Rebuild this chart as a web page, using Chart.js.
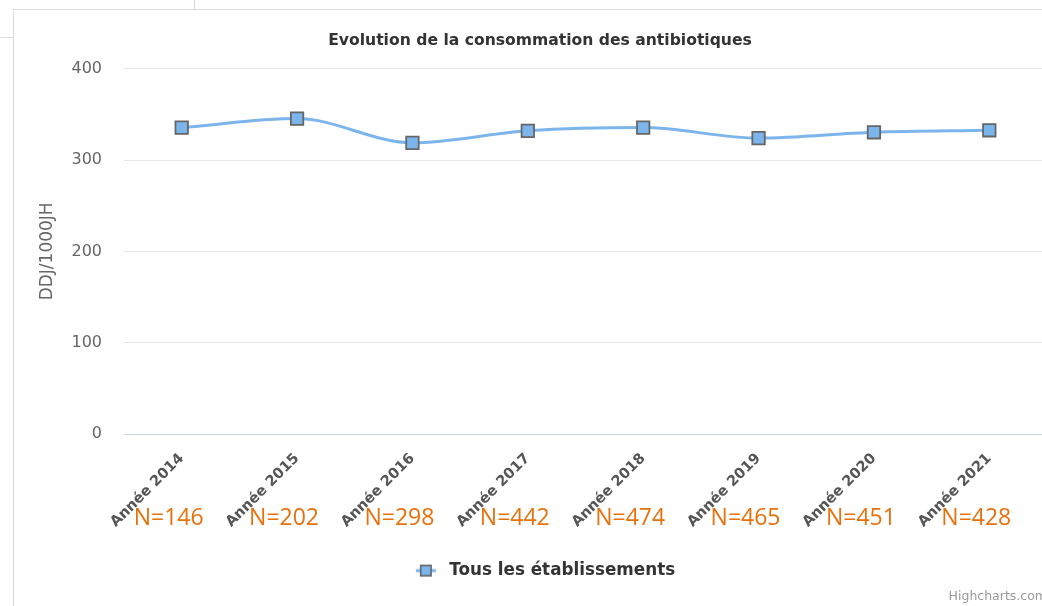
<!DOCTYPE html>
<html>
<head>
<meta charset="utf-8">
<script src="https://cdn.jsdelivr.net/npm/chart.js@4.4.1/dist/chart.umd.min.js"></script>
<style>
  html, body { margin: 0; padding: 0; background: #ffffff; overflow: hidden; width: 1042px; height: 606px; }
  #wrap { position: absolute; left: 0; top: 0; width: 1076px; height: 606px; }
  .fr { position: absolute; background: #dcdcdc; }
</style>
</head>
<body>
<div class="fr" style="left:13px; top:9px; width:1px; height:597px;"></div>
<div class="fr" style="left:13px; top:9px; width:1029px; height:1px;"></div>
<div class="fr" style="left:194px; top:0px; width:1px; height:9px;"></div>
<div class="fr" style="left:0px; top:37px; width:13px; height:1px;"></div>
<div id="wrap"><canvas id="c" width="1076" height="606" style="width:1076px;height:606px;"></canvas></div>
<script>
const categories = ['Année 2014', 'Année 2015', 'Année 2016', 'Année 2017', 'Année 2018', 'Année 2019', 'Année 2020', 'Année 2021'];
const seriesValues = [335.5, 345.4, 318.8, 332, 335.5, 324, 330.4, 332.6];
const nLabels = ['N=146', 'N=202', 'N=298', 'N=442', 'N=474', 'N=465', 'N=451', 'N=428'];
const yTicks = [0, 100, 200, 300, 400];
const seriesName = 'Tous les établissements';

// legend icon: line with square marker (drawn in the right part of a wider box)
const icon = document.createElement('canvas');
icon.width = 36; icon.height = 14;
(function () {
  const g = icon.getContext('2d');
  g.strokeStyle = '#7cb5ec'; g.lineWidth = 3;
  g.beginPath(); g.moveTo(11, 7); g.lineTo(31, 7); g.stroke();
  g.fillStyle = '#7cb5ec'; g.fillRect(15, 1, 12, 12);
  g.strokeStyle = '#666666'; g.lineWidth = 1.6; g.strokeRect(15.8, 1.8, 10.4, 10.4);
})();

const nPlugin = {
  id: 'nLabels',
  afterDraw(chart) {
    const ctx = chart.ctx;
    const xs = chart.scales.x;
    ctx.save();
    ctx.font = "23px 'Open Sans'";
    ctx.fillStyle = '#E8710C';
    ctx.textAlign = 'center';
    ctx.textBaseline = 'middle';
    nLabels.forEach((t, i) => {
      ctx.fillText(t, xs.getPixelForValue(i) - 13, chart.chartArea.bottom + 84.5);
    });
    ctx.restore();
  }
};

new Chart(document.getElementById('c'), {
  type: 'line',
  data: {
    labels: categories,
    datasets: [{
      label: seriesName,
      data: seriesValues,
      borderColor: '#7cb5ec',
      borderWidth: 3,
      cubicInterpolationMode: 'monotone',
      pointStyle: 'rect',
      pointRadius: 8.8,
      pointBackgroundColor: '#7cb5ec',
      pointBorderColor: '#666666',
      pointBorderWidth: 1.8,
      fill: false
    }]
  },
  options: {
    responsive: false,
    animation: false,
    devicePixelRatio: 1,
    events: [],
    layout: { padding: { left: 33, right: 29, top: 0, bottom: 0 } },
    plugins: {
      title: {
        display: true,
        text: 'Evolution de la consommation des antibiotiques',
        color: '#333333',
        font: { family: 'DejaVu Sans', size: 15.6, weight: 'bold' },
        padding: { top: 31.5, bottom: 18.5 }
      },
      subtitle: {
        display: true,
        position: 'bottom',
        align: 'end',
        text: 'Highcharts.com',
        color: '#999999',
        font: { family: 'DejaVu Sans', size: 12.5, weight: 'normal' },
        padding: { top: 0, bottom: 2 }
      },
      legend: {
        display: true,
        position: 'bottom',
        labels: {
          usePointStyle: true,
          pointStyleWidth: 36,
          padding: 4,
          color: '#333333',
          font: { family: 'DejaVu Sans', size: 16.8, weight: 'bold' },
          generateLabels(chart) {
            const items = Chart.defaults.plugins.legend.labels.generateLabels(chart);
            items.forEach(it => { it.pointStyle = icon; });
            return items;
          }
        }
      },
      tooltip: { enabled: false }
    },
    scales: {
      x: {
        offset: true,
        grid: { display: false, drawTicks: false },
        border: { display: true, color: '#ccd6eb', width: 1 },
        ticks: {
          autoSkip: false,
          maxRotation: 45,
          minRotation: 45,
          padding: 16,
          color: '#555555',
          font: { family: 'DejaVu Sans', size: 14.5, weight: 'bold' }
        },
        afterFit(scale) { scale.height = 124.2; }
      },
      y: {
        min: 0,
        max: 400,
        afterBuildTicks(scale) { scale.ticks = yTicks.map(v => ({ value: v })); },
        afterFit(scale) { scale.width = 91; },
        grid: { color: '#e6e6e6', lineWidth: 1, drawTicks: false },
        border: { display: false },
        ticks: {
          padding: 22,
          color: '#666666',
          font: { family: 'DejaVu Sans', size: 16 }
        },
        title: {
          display: true,
          text: 'DDJ/1000JH',
          color: '#666666',
          font: { family: 'DejaVu Sans', size: 17 },
          padding: { top: 4, bottom: 4 }
        }
      }
    }
  },
  plugins: [nPlugin]
});
</script>
</body>
</html>
